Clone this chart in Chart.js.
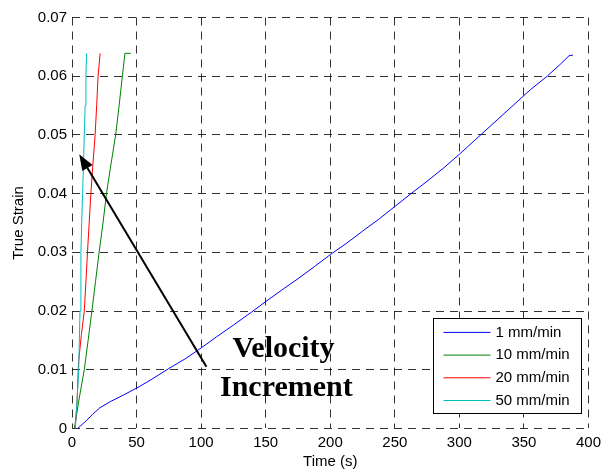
<!DOCTYPE html>
<html>
<head>
<meta charset="utf-8">
<script src="https://cdn.jsdelivr.net/npm/chart.js@4/dist/chart.umd.min.js"></script>
<style>
  html, body { margin: 0; padding: 0; background: #fff; }
  #wrap { width: 606px; height: 470px; }
</style>
</head>
<body>
<div id="wrap"><canvas id="strainChart" width="606" height="470"></canvas></div>
<script>
// time (s) / true strain samples for each crosshead speed
const seriesNames = ["1 mm/min", "10 mm/min", "20 mm/min", "50 mm/min"];
const seriesColors = ["#0000ff", "#008000", "#ff0000", "#00bfbf"];

const t1 = [4.4, 10, 16, 21.5, 30, 40, 52, 62, 75, 88, 100, 112, 125, 139, 150, 162, 175, 188, 200, 213, 225, 238, 250, 262, 275, 288, 300, 316, 330, 343, 355, 368, 378, 385, 388];
const e1 = [0, 0.0011, 0.0024, 0.0035, 0.0046, 0.0057, 0.0071, 0.0084, 0.0102, 0.0119, 0.0137, 0.0156, 0.0176, 0.0198, 0.0216, 0.0235, 0.0255, 0.0276, 0.0296, 0.0316, 0.0336, 0.0357, 0.0378, 0.0399, 0.0421, 0.0444, 0.0467, 0.0499, 0.0527, 0.0553, 0.0577, 0.0600, 0.0620, 0.0635, 0.0636];

const t10 = [1.8, 5.5, 9.5, 12.5, 15.4, 18.2, 21.0, 24.0, 26.7, 30.2, 33.8, 36.5, 39.0, 41.0, 45.5];
const e10 = [0, 0.005, 0.010, 0.015, 0.020, 0.025, 0.030, 0.035, 0.040, 0.045, 0.050, 0.055, 0.060, 0.0639, 0.0639];

const t20 = [2.5, 4.0, 5.1, 7.3, 9.5, 10.8, 12.0, 13.3, 14.6, 16.2, 17.9, 19.1, 20.2, 21.8];
const e20 = [0, 0.005, 0.0114, 0.016, 0.020, 0.025, 0.030, 0.035, 0.040, 0.045, 0.050, 0.055, 0.060, 0.0639];

const t50 = [2.5, 4.0, 5.2, 6.2, 6.9, 7.5, 8.2, 8.9, 9.5, 10.2, 10.8, 11.3];
const e50 = [0, 0.005, 0.010, 0.020, 0.030, 0.035, 0.040, 0.045, 0.050, 0.055, 0.060, 0.0639];

const xTicks = [0, 50, 100, 150, 200, 250, 300, 350, 400];
const yTicks = [0, 0.01, 0.02, 0.03, 0.04, 0.05, 0.06, 0.07];

// annotation: arrow from tail to head, and the two-line caption
const arrowTail = [104.1, 0.0105];
const arrowHead = [5.6, 0.0467];
const captionLines = ["Velocity", "Increment"];
const captionAt = [[163.8, 0.0122], [166, 0.0055]];

const timeSets = [t1, t10, t20, t50];
const strainSets = [e1, e10, e20, e50];

const datasets = seriesNames.map((name, i) => ({
  label: name,
  data: timeSets[i].map((t, k) => ({ x: t, y: strainSets[i][k] })),
  borderColor: seriesColors[i],
  borderWidth: 1,
  pointRadius: 0,
  tension: 0,
  fill: false,
  order: seriesNames.length - i,
}));

const annotate = {
  id: "annotate",
  afterDatasetsDraw(chart) {
    const { ctx, scales: { x, y } } = chart;
    const x0 = x.getPixelForValue(arrowTail[0]), y0 = y.getPixelForValue(arrowTail[1]);
    const x1 = x.getPixelForValue(arrowHead[0]), y1 = y.getPixelForValue(arrowHead[1]);
    const ang = Math.atan2(y1 - y0, x1 - x0);
    const len = 16, half = 6;
    const bx = x1 - len * Math.cos(ang), by = y1 - len * Math.sin(ang);
    ctx.save();
    ctx.strokeStyle = "#000";
    ctx.fillStyle = "#000";
    ctx.lineWidth = 2;
    ctx.beginPath();
    ctx.moveTo(x0, y0);
    ctx.lineTo(bx, by);
    ctx.stroke();
    ctx.beginPath();
    ctx.moveTo(x1, y1);
    ctx.lineTo(bx + half * Math.sin(ang), by - half * Math.cos(ang));
    ctx.lineTo(bx - half * Math.sin(ang), by + half * Math.cos(ang));
    ctx.closePath();
    ctx.fill();

    ctx.font = "bold 30px 'Liberation Serif', 'Times New Roman', serif";
    ctx.textAlign = "center";
    ctx.textBaseline = "alphabetic";
    captionLines.forEach((txt, i) => {
      ctx.fillText(txt, x.getPixelForValue(captionAt[i][0]), y.getPixelForValue(captionAt[i][1]));
    });
    ctx.restore();
  },
  afterDraw(chart) {
    // boxed legend in the lower right corner of the plot
    const { ctx, chartArea } = chart;
    const w = 148, h = 95;
    const left = chartArea.right - 7 - w, top = chartArea.bottom - 15 - h;
    ctx.save();
    ctx.fillStyle = "#fff";
    ctx.fillRect(left, top, w, h);
    ctx.strokeStyle = "#000";
    ctx.lineWidth = 1;
    ctx.strokeRect(Math.round(left) + 0.5, Math.round(top) + 0.5, w, h);
    ctx.font = "15px 'Liberation Sans', Arial, sans-serif";
    ctx.textBaseline = "middle";
    ctx.textAlign = "left";
    seriesNames.forEach((name, i) => {
      const ry = top + 14 + i * 22.7;
      ctx.strokeStyle = seriesColors[i];
      ctx.beginPath();
      ctx.moveTo(left + 10, ry);
      ctx.lineTo(left + 57, ry);
      ctx.stroke();
      ctx.fillStyle = "#000";
      ctx.fillText(name, left + 62, ry);
    });
    ctx.restore();
  }
};

const gridStyle = { color: "rgba(0,0,0,0.8)", lineWidth: 1, drawTicks: false };
const tickFont = { family: "'Liberation Sans', Arial, sans-serif", size: 15 };

new Chart(document.getElementById("strainChart"), {
  type: "line",
  data: { datasets },
  plugins: [annotate],
  options: {
    responsive: false,
    animation: false,
    layout: { padding: { left: 0, right: 14, top: 17.5, bottom: 0 } },
    plugins: { legend: { display: false }, tooltip: { enabled: false } },
    scales: {
      x: {
        type: "linear",
        min: 0, max: 400,
        afterBuildTicks: s => { s.ticks = xTicks.map(v => ({ value: v })); },
        afterFit: s => { s.height = 41.6; },
        grid: gridStyle,
        border: { display: false, dash: [8, 6] },
        ticks: { color: "#000", font: tickFont, padding: 5, maxRotation: 0 },
        title: { display: true, text: "Time (s)", color: "#000", font: { ...tickFont, lineHeight: 1.2 }, padding: { top: 0, bottom: -1 } },
      },
      y: {
        type: "linear",
        min: 0, max: 0.07,
        afterBuildTicks: s => { s.ticks = yTicks.map(v => ({ value: v })); },
        afterFit: s => { s.width = 72; },
        grid: gridStyle,
        border: { display: false, dash: [8, 6] },
        ticks: { color: "#000", font: tickFont, padding: 5, callback: v => (v === 0 ? "0" : v.toFixed(2)) },
        title: { display: true, text: "True Strain", color: "#000", font: { ...tickFont, lineHeight: 1.2 }, padding: { top: 10, bottom: 0 } },
      },
    },
  },
});
</script>
</body>
</html>
